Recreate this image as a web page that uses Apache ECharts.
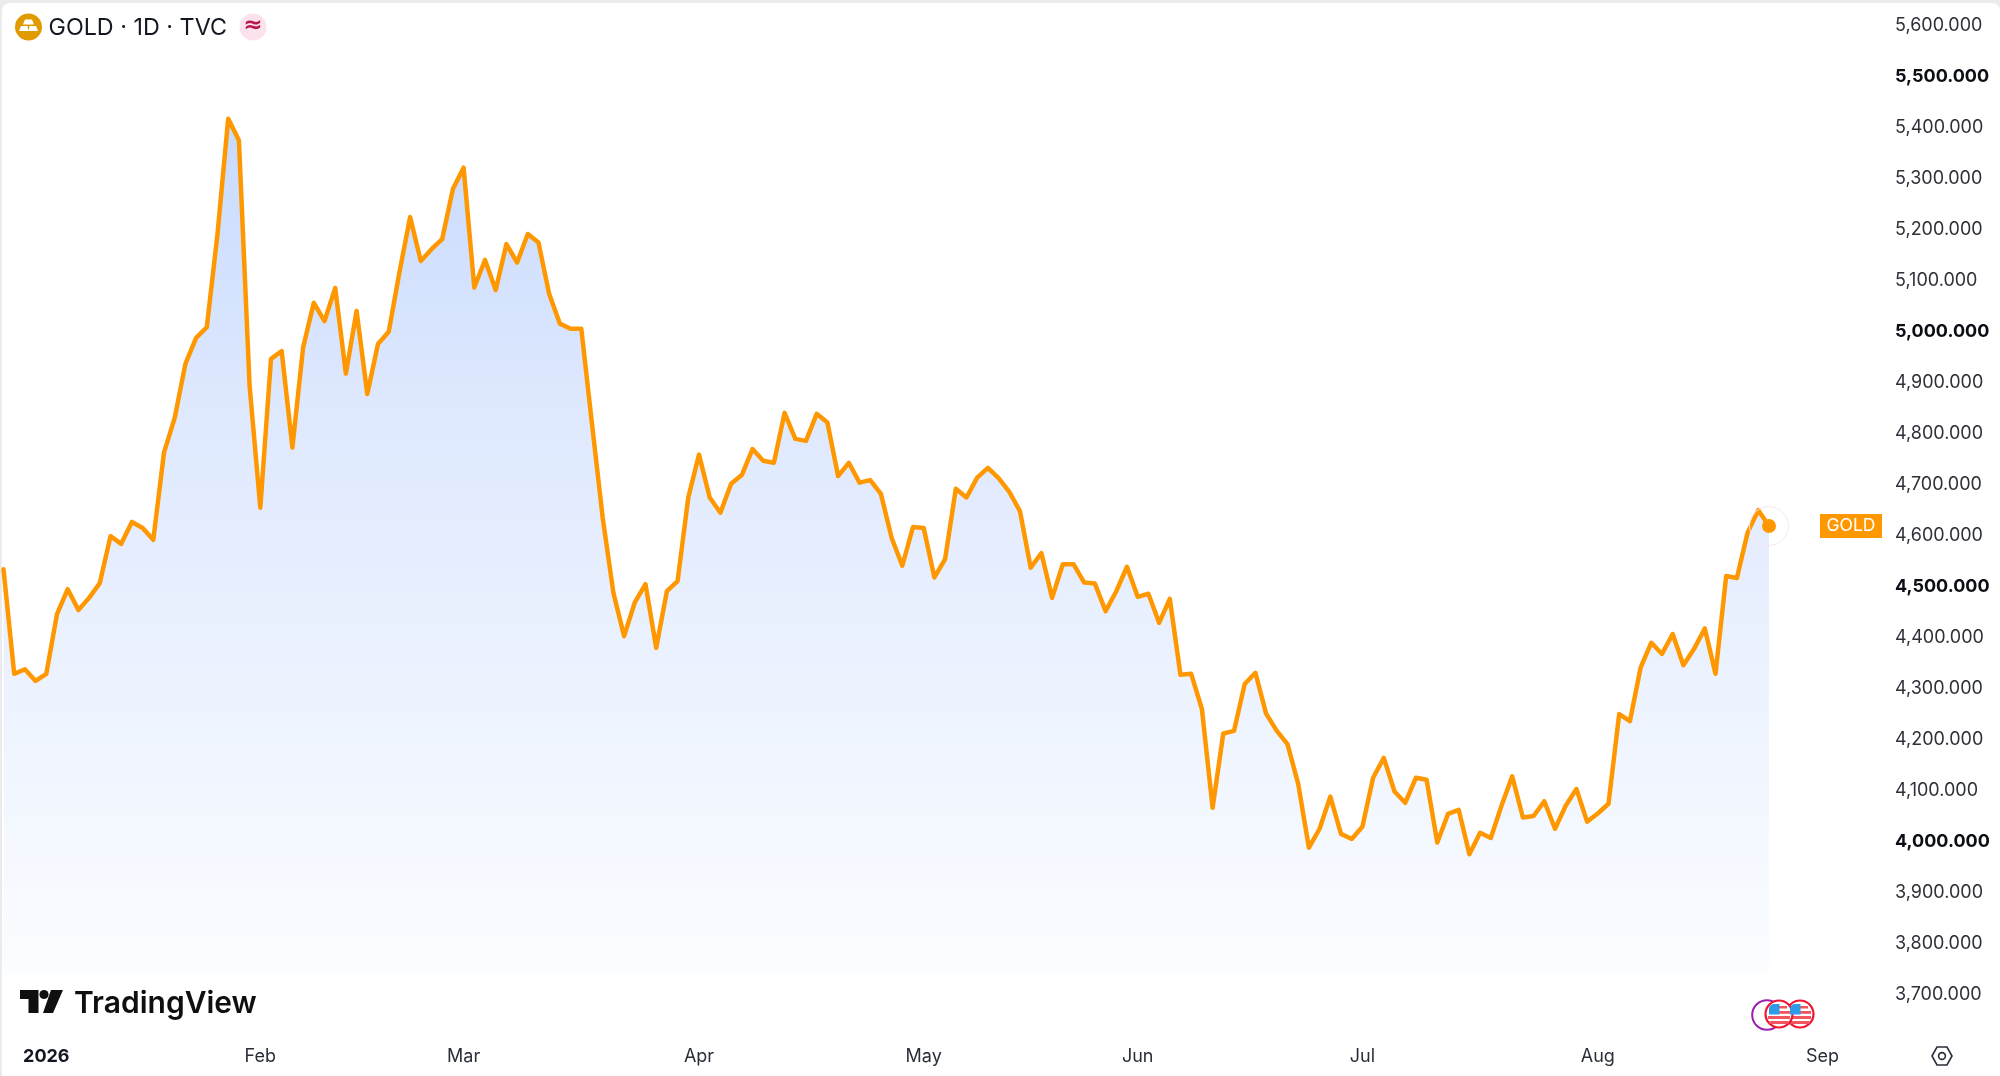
<!DOCTYPE html>
<html>
<head>
<meta charset="utf-8">
<title>GOLD 1D TVC</title>
<script src="https://cdn.jsdelivr.net/npm/echarts@6/dist/echarts.min.js"></script>
<style>
html,body{margin:0;padding:0;width:2000px;height:1076px;background:#ebebeb;overflow:hidden}
#card{position:absolute;left:2px;top:3px;width:1998px;height:1073px;background:#fff;border-radius:8px 8px 0 0}
#chart{position:absolute;left:0;top:0;width:2000px;height:1076px}
</style>
</head>
<body>
<div id="card"></div>
<div id="chart"></div>
<script>
var closes = [
4534,4329,4338,4315,4329,4446,4495,4454,4478,4507,4599,4584,4627,4615,4592,4763,4831,4937,4988,5009,
5192,5418,5376,4894,4655,4947,4962,4773,4969,5057,5021,5086,4918,5041,4878,4976,5000,5116,5225,5139,
5162,5182,5280,5322,5087,5141,5082,5172,5136,5192,5175,5074,5016,5006,5006,4819,4635,4488,4403,4469,
4505,4380,4491,4511,4675,4759,4675,4645,4702,4719,4770,4747,4743,4841,4790,4786,4839,4822,4717,4743,
4704,4709,4682,4596,4541,4617,4615,4518,4554,4692,4675,4714,4733,4713,4686,4648,4537,4566,4478,4544,
4544,4508,4506,4452,4491,4539,4480,4486,4429,4476,4327,4329,4260,4066,4212,4217,4309,4331,4251,4217,
4191,4113,3988,4025,4088,4015,4005,4029,4125,4164,4098,4076,4125,4121,3998,4054,4062,3975,4017,4007,
4070,4128,4047,4050,4079,4025,4070,4103,4039,4055,4074,4250,4236,4341,4390,4368,4407,4346,4378,4418,
4329,4521,4517,4606,4650,4619
];
var sessionCount = 176;
var sessions = [];
for (var s = 0; s < sessionCount; s++) sessions.push(String(s));
var monthIndexes = [4,24,43,65,86,106,127,149,170];
var monthLabels = ['2026','Feb','Mar','Apr','May','Jun','Jul','Aug','Sep'];
var boldPrices = [5500,5000,4500,4000];
var symbolName = 'GOLD';
var legendTitle = 'GOLD · 1D · TVC';
var brandName = 'TradingView';

var FONT = 'Inter, Roboto, sans-serif';
var lastIndex = closes.length - 1;
var lastValue = closes[lastIndex];

function flag(cx, cy) {
  var r = 13.5;
  function stripe(dx, dy, w, h, fill) {
    return {type:'rect', shape:{x:cx+dx, y:cy+dy, width:w, height:h}, style:{fill:fill}, z:50};
  }
  return [
    {type:'circle', shape:{cx:cx, cy:cy, r:r}, style:{fill:'#fff', stroke:'#f0142f', lineWidth:2.2}, z:50},
    stripe(0,-8,8,2.5,'#f2555f'),
    stripe(0,-3,11,2.8,'#f2555f'),
    stripe(-11,2,22,3,'#f2555f'),
    stripe(-9.5,7,19,3,'#f2555f'),
    {type:'rect', shape:{x:cx-10, y:cy-10, width:10.5, height:10.5, r:[5,0,0,0]}, style:{fill:'#2f9be8'}, z:51}
  ];
}

var chart = echarts.init(document.getElementById('chart'), null, {renderer:'canvas'});
chart.setOption({
  animation:false,
  backgroundColor:'transparent',
  grid:{left:3.5, top:26, width:1872.5, height:968.4, containLabel:false},
  xAxis:{
    type:'category', data:sessions, boundaryGap:false,
    axisLine:{show:false}, axisTick:{show:false}, splitLine:{show:false},
    axisLabel:{
      margin:53.5, fontFamily:FONT, fontSize:18, color:'#2a2e39',
      interval:function(i){ return monthIndexes.indexOf(i) >= 0; },
      formatter:function(v, i){
        var k = monthIndexes.indexOf(i);
        if (k < 0) return '';
        return k === 0 ? '{y|' + monthLabels[k] + '}' : monthLabels[k];
      },
      rich:{y:{fontFamily:FONT, fontSize:18, fontWeight:700, color:'#131722'}}
    }
  },
  yAxis:{
    type:'value', position:'right', min:3700, max:5600, interval:100,
    axisLine:{show:false}, axisTick:{show:false}, splitLine:{show:false},
    axisLabel:{
      margin:19, fontFamily:FONT, fontSize:18, color:'#2e3138',
      formatter:function(v){
        var t = v.toLocaleString('en-US') + '.000';
        return boldPrices.indexOf(v) >= 0 ? '{b|' + t + '}' : t;
      },
      rich:{b:{fontFamily:FONT, fontSize:18, fontWeight:700, color:'#0b0e14'}}
    }
  },
  series:[{
    type:'line', data:closes, symbol:'none', showSymbol:false, smooth:false,
    lineStyle:{color:'#ff9800', width:4.5, join:'round', cap:'round'},
    areaStyle:{
      origin:3738,
      opacity:1,
      color:new echarts.graphic.LinearGradient(0,0,0,1,[
        {offset:0,color:'#c8dafd'},{offset:0.35,color:'#dfe9fe'},{offset:1,color:'#fbfdff'}
      ])
    },
    markPoint:{
      silent:true, animation:false,
      data:[
        {coord:[lastIndex,lastValue], symbol:'circle', symbolSize:39,
          itemStyle:{color:'rgba(255,255,255,0)', borderColor:'#f5e8ee', borderWidth:1}, label:{show:false}},
        {coord:[lastIndex,lastValue], symbol:'circle', symbolSize:14,
          itemStyle:{color:'#ff9800'}, label:{show:false}},
        {coord:[lastIndex,lastValue], symbol:'rect', symbolSize:[62,24], symbolOffset:[82,0],
          itemStyle:{color:'#ff9800'},
          label:{show:true, position:'inside', formatter:symbolName, color:'#fff', fontFamily:FONT, fontSize:17.5}}
      ]
    }
  }],
  graphic:[
    // legend
    {type:'circle', shape:{cx:28.5, cy:27, r:13.5}, style:{fill:'#e09b00'}, z:50},
    {type:'polygon', shape:{points:[[25,19.5],[32,19.5],[34,24.5],[23,24.5]]}, style:{fill:'#fff'}, z:51},
    {type:'polygon', shape:{points:[[21,26],[27.5,26],[28.5,31],[19,31]]}, style:{fill:'#fff'}, z:51},
    {type:'polygon', shape:{points:[[29.5,26],[36,26],[38,31],[28.5,31]]}, style:{fill:'#fff'}, z:51},
    {type:'text', style:{text:legendTitle, x:48.5, y:28, fontFamily:FONT, fontSize:23.3, fill:'#131722', verticalAlign:'middle'}, z:50},
    {type:'circle', shape:{cx:253, cy:27, r:13.5}, style:{fill:'#fce2ec'}, z:50},
    {type:'text', style:{text:'≈', x:253, y:26, fontFamily:'DejaVu Sans', fontSize:23, fontWeight:700, fill:'#b5174f', align:'center', verticalAlign:'middle'}, z:51},
    // brand
    {type:'polygon', shape:{points:[[20,990],[38.5,990],[38.5,1013],[28.5,1013],[28.5,999],[20,999]]}, style:{fill:'#0f0f0f'}, z:50},
    {type:'circle', shape:{cx:44, cy:994.5, r:4.6}, style:{fill:'#0f0f0f'}, z:50},
    {type:'polygon', shape:{points:[[51,990],[63,990],[53,1013],[43,1013]]}, style:{fill:'#0f0f0f'}, z:50},
    {type:'text', style:{text:brandName, x:74, y:1004, fontFamily:FONT, fontSize:30, fontWeight:600, fill:'#0f0f0f', verticalAlign:'middle'}, z:50},
    // event markers
    {type:'circle', shape:{cx:1767, cy:1015, r:14.8}, style:{fill:'#fff', stroke:'#9c1fb0', lineWidth:2}, z:49}
  ].concat(flag(1800,1014)).concat(flag(1779,1014)).concat([
    // settings
    {type:'polygon', shape:{points:[[1932,1056],[1937,1047],[1947,1047],[1952,1056],[1947,1065],[1937,1065]]}, style:{fill:'none', stroke:'#2a2e39', lineWidth:1.6}, z:50},
    {type:'circle', shape:{cx:1942, cy:1056, r:3.4}, style:{fill:'none', stroke:'#2a2e39', lineWidth:1.6}, z:50}
  ])
});
</script>
</body>
</html>
